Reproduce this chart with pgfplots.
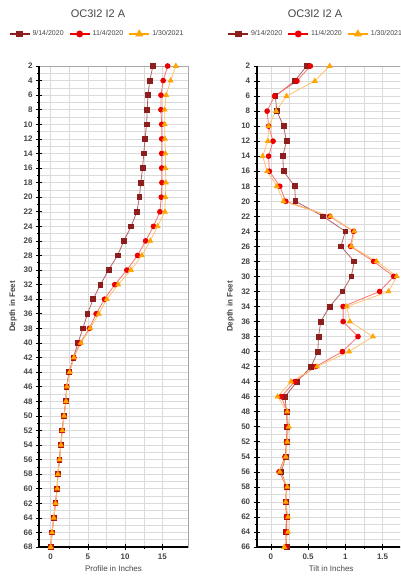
\documentclass[border=0pt]{standalone}
\usepackage{pgfplots}
\pgfplotsset{compat=1.18}
\usepackage{pgfplotstable}
\usepackage{fontspec}
\setmainfont{Liberation Sans}
\definecolor{cA}{RGB}{140,30,30}
\definecolor{cAl}{RGB}{180,100,100}
\definecolor{cB}{RGB}{235,0,0}
\definecolor{cBl}{RGB}{250,115,115}
\definecolor{cC}{RGB}{255,165,0}
\definecolor{cCl}{RGB}{255,195,110}
\definecolor{gridc}{RGB}{218,218,218}
\definecolor{txt}{RGB}{70,70,70}

\pgfplotstableread{
d a b c
2 13.72 15.70 16.80
4 13.30 15.10 16.10
6 13.05 14.80 15.50
8 12.96 14.80 15.30
10 12.87 14.90 15.30
12 12.65 14.90 15.33
14 12.50 14.90 15.40
16 12.33 14.90 15.40
18 12.10 14.93 15.47
20 11.90 14.84 15.40
22 11.57 14.66 15.33
24 10.80 13.80 14.35
26 9.82 12.74 13.36
28 8.97 11.66 12.24
30 7.76 10.22 10.76
32 6.68 8.60 9.06
34 5.70 7.22 7.53
36 4.93 6.10 6.45
38 4.32 5.20 5.30
40 3.65 3.95 4.05
42 3.06 3.10 3.12
44 2.48 2.52 2.55
46 2.12 2.15 2.17
48 2.03 2.05 2.06
50 1.76 1.78 1.80
52 1.53 1.55 1.56
54 1.35 1.36 1.37
56 1.17 1.18 1.19
58 0.95 0.96 0.97
60 0.86 0.87 0.88
62 0.63 0.64 0.65
64 0.41 0.42 0.42
66 0.18 0.19 0.19
68 0.00 0.00 0.00
}\profile

\pgfplotstableread{
d a b c
2 0.48 0.53 0.79
4 0.32 0.35 0.59
6 0.06 0.05 0.21
8 0.08 -0.05 0.07
10 0.17 -0.03 -0.03
12 0.21 0.03 -0.04
14 0.16 -0.03 -0.11
16 0.17 -0.02 -0.05
18 0.32 0.12 0.08
20 0.33 0.20 0.17
22 0.70 0.79 0.80
24 1.00 1.11 1.12
26 0.94 1.07 1.08
28 1.12 1.38 1.42
30 1.08 1.65 1.69
32 0.96 1.46 1.58
34 0.79 0.97 1.02
36 0.67 0.97 1.06
38 0.64 1.17 1.37
40 0.63 0.96 1.05
42 0.54 0.60 0.62
44 0.35 0.32 0.27
46 0.19 0.14 0.09
48 0.21 0.22 0.22
50 0.22 0.22 0.24
52 0.21 0.21 0.22
54 0.20 0.19 0.20
56 0.14 0.11 0.12
58 0.21 0.21 0.22
60 0.20 0.20 0.20
62 0.21 0.21 0.23
64 0.20 0.21 0.23
66 0.21 0.20 0.18
}\tilt

\pgfplotsset{
  panel/.style={
    scale only axis, width=149pt, height=481pt,
    anchor=south west,
    y dir=reverse,
    clip=false,
    axis line style={draw=gray!70, line width=0.8pt},
    grid=both,
    major grid style={draw=gridc, line width=0.5pt},
    minor grid style={draw=gridc, line width=0.5pt},
    minor x tick num=1, minor y tick num=1,
    tick align=center,
    major tick length=6pt, minor tick length=3pt,
    every tick/.style={black, line width=0.6pt},
    tick pos=left,
    /pgf/number format/assume math mode=true,
    ticklabel style={font=\fontsize{8}{9}\selectfont\bfseries, text=txt},
    label style={font=\fontsize{8}{9}\selectfont, text=txt},
    ylabel style={font=\fontsize{8}{9}\selectfont\bfseries},
    legend columns=3,
    legend style={draw=none, fill=none, font=\fontsize{7}{8}\selectfont, text=txt,
      anchor=center, /tikz/every even column/.append style={column sep=3pt},
      /tikz/every odd column/.append style={column sep=0pt}},
    legend cell align=left,
    legend image code/.code={\draw[mark repeat=2,mark phase=2] plot coordinates {(0pt,0pt)(10pt,0pt)(20pt,0pt)};},
  },
  sA/.style={draw=cAl, line width=0.8pt, mark=square*, mark size=2.4pt, mark options={draw=cA, fill=cA, solid}},
  sB/.style={draw=cBl, line width=0.8pt, mark=*, mark size=2.4pt, mark options={draw=cB, fill=cB, solid}},
  sC/.style={draw=cCl, line width=0.8pt, mark=triangle*, mark size=2.7pt, mark options={draw=cC, fill=cC, solid}},
  lA/.style={draw=cA, line width=2pt, mark=square*, mark size=2.4pt, mark options={draw=cA, fill=cA}},
  lB/.style={draw=cB, line width=2pt, mark=*, mark size=2.4pt, mark options={draw=cB, fill=cB}},
  lC/.style={draw=cC, line width=2pt, mark=triangle*, mark size=2.7pt, mark options={draw=cC, fill=cC}},
}

\begin{document}
\begin{tikzpicture}[x=1pt,y=1pt]
\useasboundingbox (0,0) rectangle (400,576);
\clip (0,0) rectangle (400,576);
\fill[white] (0,0) rectangle (400,576);

\begin{axis}[panel, at={(39pt,29pt)},
  xmin=-1.57, xmax=18.43, ymin=2, ymax=68,
  xtick={0,5,10,15}, ytick={2,4,...,68},
  xlabel={Profile in Inches}, ylabel={Depth in Feet},
  legend style={at={(0.389,1.0666)}},
]
\addlegendimage{lA}\addlegendentry{9/14/2020}
\addlegendimage{lB}\addlegendentry{11/4/2020}
\addlegendimage{lC}\addlegendentry{1/30/2021}
\addplot[sA, forget plot] table[x=a, y=d] {\profile};
\addplot[sB, forget plot] table[x=b, y=d] {\profile};
\addplot[sC, forget plot] table[x=c, y=d] {\profile};
\draw[black, line width=1.6pt] (axis cs:-1.57,2) -- (axis cs:-1.57,68) -- (axis cs:18.43,68);
\end{axis}

\begin{axis}[panel, at={(256.7pt,29pt)},
  xmin=-0.19, xmax=1.81, ymin=2, ymax=66,
  xtick={0,0.5,1,1.5}, ytick={2,4,...,66},
  xticklabels={0,0.5,1,1.5},
  xlabel={Tilt in Inches}, ylabel={Depth in Feet},
  legend style={at={(0.395,1.0666)}},
]
\addlegendimage{lA}\addlegendentry{9/14/2020}
\addlegendimage{lB}\addlegendentry{11/4/2020}
\addlegendimage{lC}\addlegendentry{1/30/2021}
\addplot[sA, forget plot] table[x=a, y=d] {\tilt};
\addplot[sB, forget plot] table[x=b, y=d] {\tilt};
\addplot[sC, forget plot] table[x=c, y=d] {\tilt};
\draw[black, line width=1.6pt] (axis cs:-0.19,2) -- (axis cs:-0.19,66) -- (axis cs:1.81,66);
\end{axis}

\node[font=\fontsize{11}{13}\selectfont, text=txt] at (98,562) {OC3I2 I2 A};
\node[font=\fontsize{11}{13}\selectfont, text=txt] at (315,562) {OC3I2 I2 A};
\end{tikzpicture}
\end{document}
